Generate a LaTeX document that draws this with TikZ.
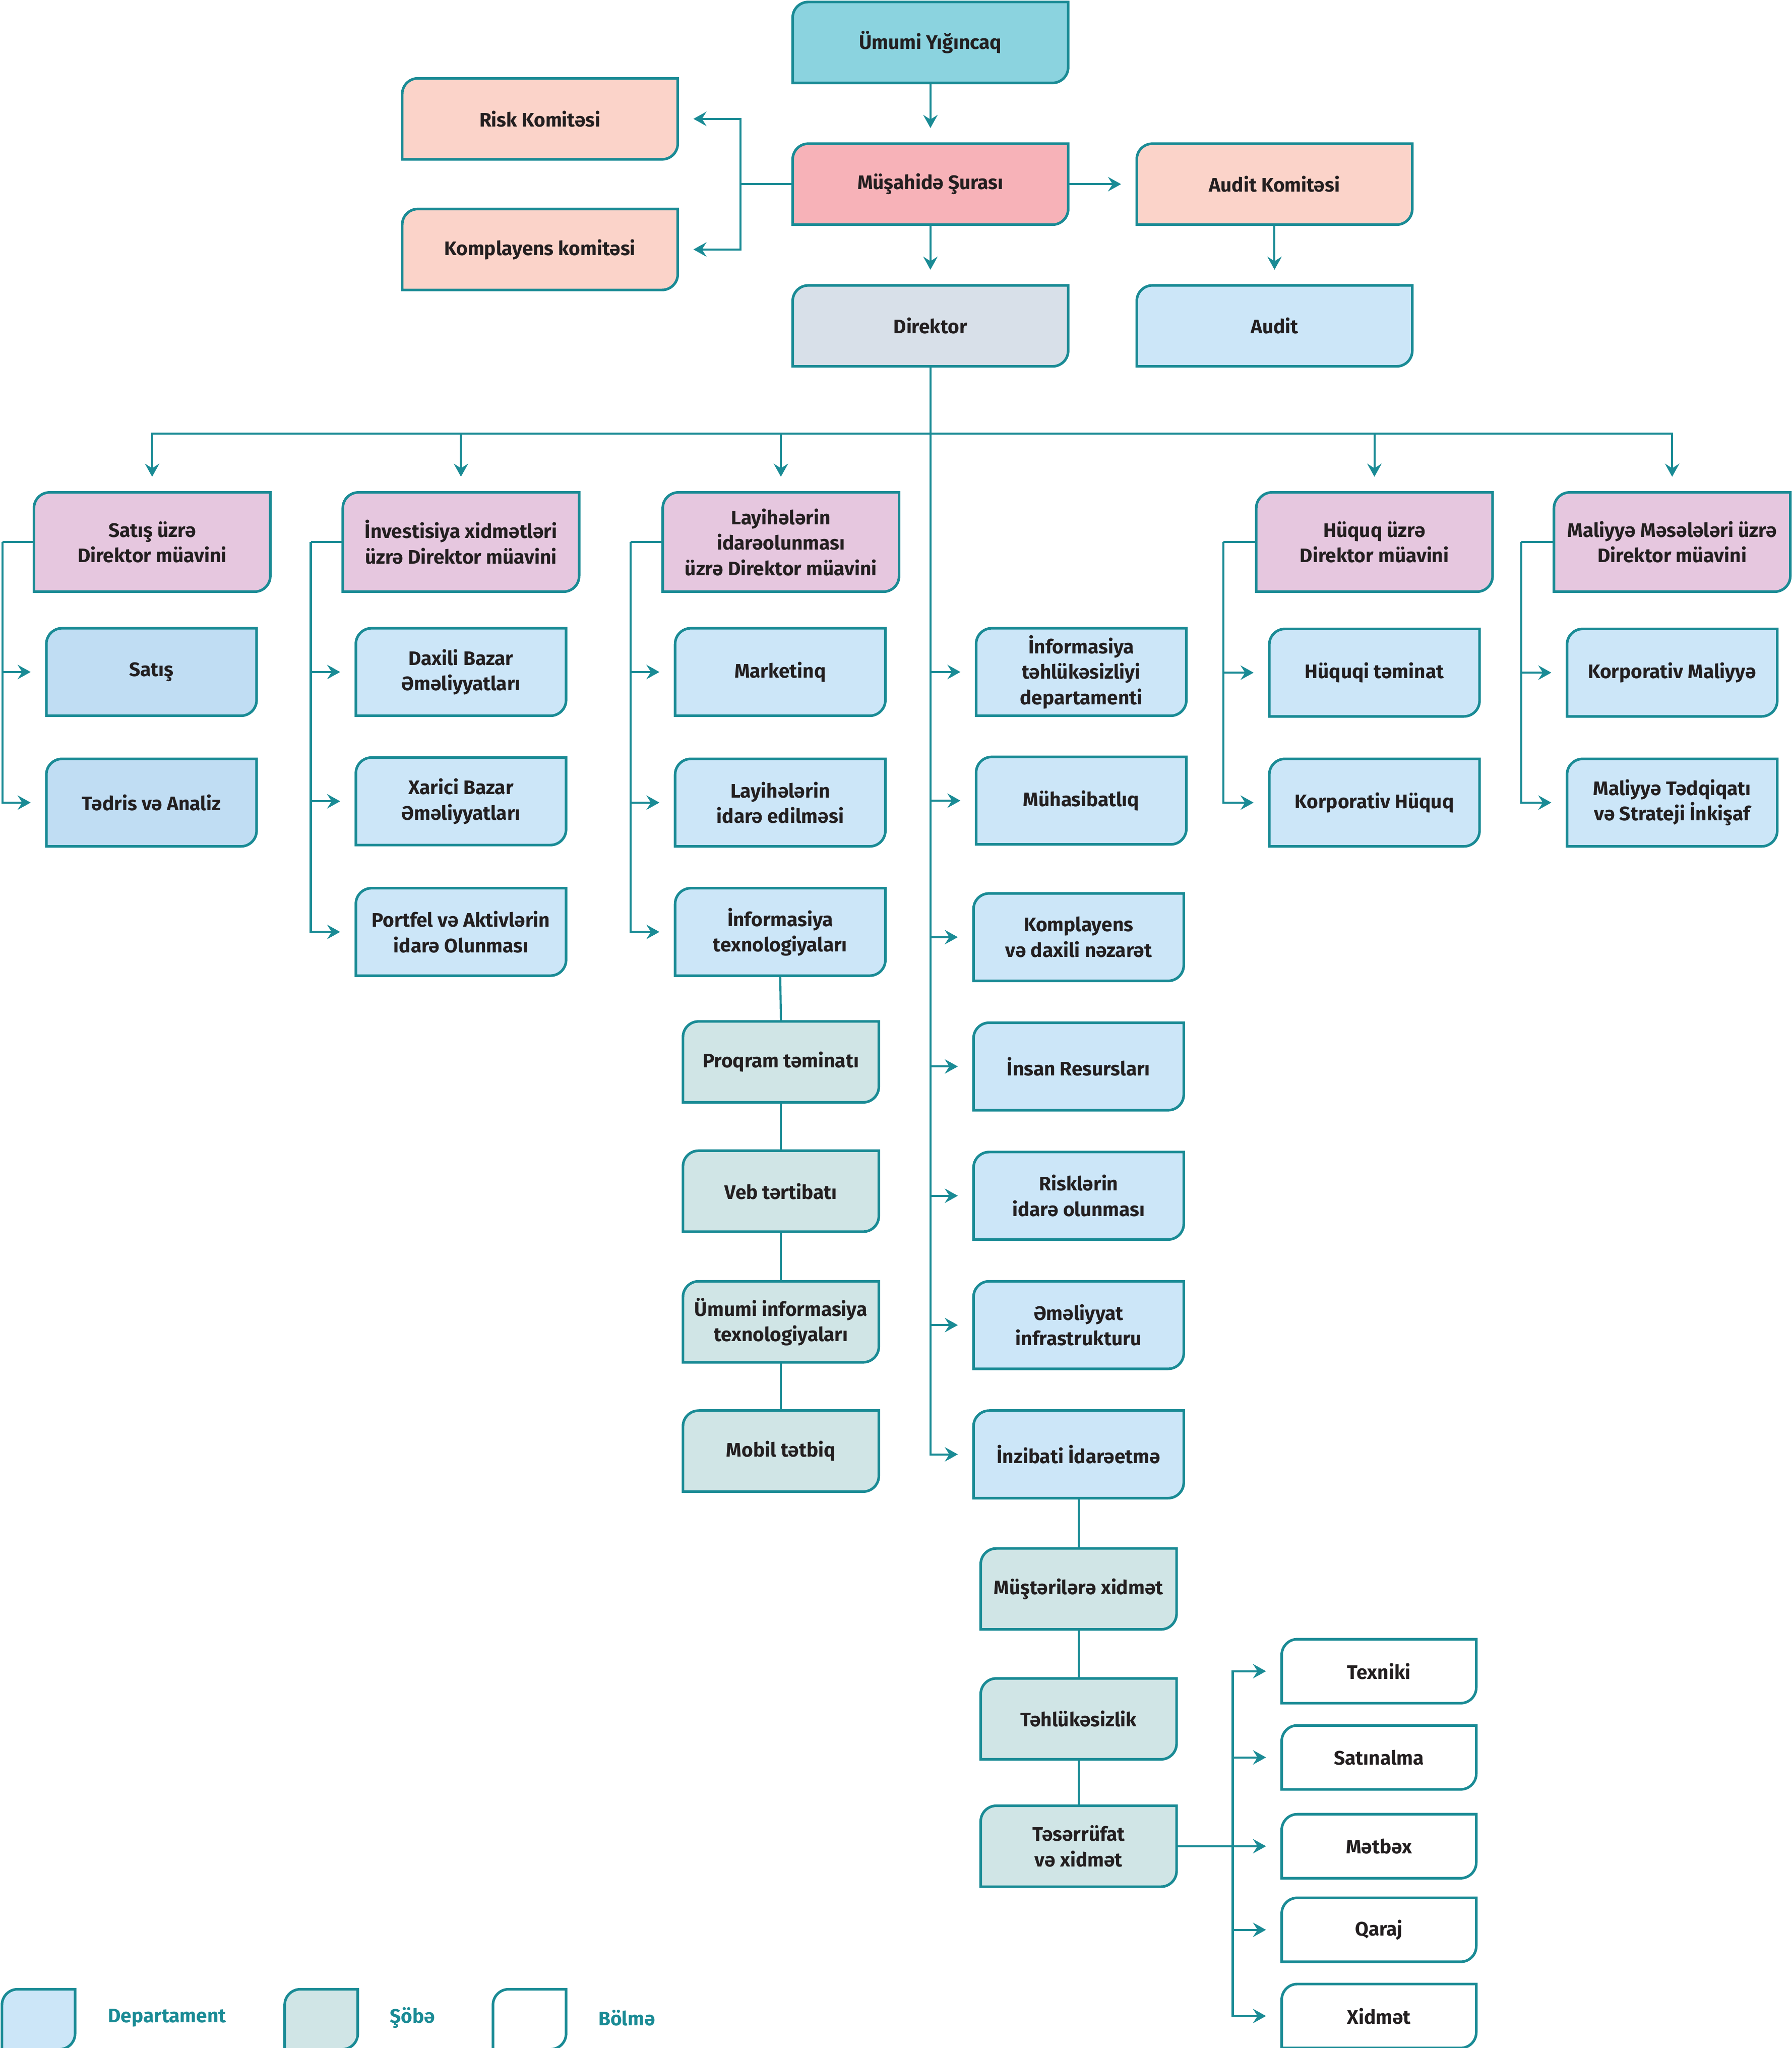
\documentclass[tikz,border=0pt]{standalone}
\usepackage{fontspec}
\setmainfont{Fira Sans}
\usetikzlibrary{arrows.meta,backgrounds}
\definecolor{tealc}{HTML}{1A8B95}
\definecolor{ink}{HTML}{231F20}
\definecolor{cUmumi}{HTML}{8BD3DF}
\definecolor{cMus}{HTML}{F7B2B8}
\definecolor{cPeach}{HTML}{FBD3C9}
\definecolor{cDir}{HTML}{D8E0E9}
\definecolor{cDept}{HTML}{CCE6F8}
\definecolor{cDeptB}{HTML}{C0DDF3}
\definecolor{cDep}{HTML}{E6C7DF}
\definecolor{cSobe}{HTML}{D0E5E6}
\begin{document}
\begin{tikzpicture}[x=1pt,y=-1pt,
  every node/.style={font=\bfseries\fontsize{15}{19.5}\selectfont, text=ink, align=center, inner sep=0pt, outer sep=0pt},
  boxline/.style={draw=tealc, line width=2pt},
  box/.style n args={3}{minimum width=#1, minimum height=#2,
    append after command={\pgfextra{\begin{pgfonlayer}{background}
      \draw[boxline,fill=#3] (\tikzlastnode.south west) -- ([yshift=-12pt]\tikzlastnode.north west)
        arc[start angle=180,end angle=90,radius=12pt] -- (\tikzlastnode.north east)
        -- ([yshift=12pt]\tikzlastnode.south east) arc[start angle=0,end angle=-90,radius=12pt] -- cycle;
      \end{pgfonlayer}}}},
  topbox/.style={box={211pt}{62pt}{#1}},
  dep/.style={box={181pt}{76pt}{cDep}},
  dept/.style={box={161pt}{67pt}{#1}},
  dept/.default=cDept,
  sobe/.style={box={150pt}{62pt}{cSobe}},
  bolme/.style={box={149pt}{49pt}{white}},
  leg/.style={box={56pt}{46pt}{#1}},
  legtext/.style={text=tealc},
  link/.style={draw=tealc, line width=1.6pt},
  arr/.style={link, -{Stealth[length=10pt,width=11pt,inset=3.5pt]}, shorten >=12pt}
]
\useasboundingbox (0,0) rectangle (1372,1568);

% top level
\node[topbox=cUmumi] (umumi) at (712.5,32.5) {Ümumi Yığıncaq};
\node[topbox=cMus] (mus) at (712.5,141) {Müşahidə Şurası};
\node[topbox=cPeach] (auditk) at (976,141) {Audit Komitəsi};
\node[topbox=cPeach] (risk) at (413.5,91) {Risk Komitəsi};
\node[topbox=cPeach] (kompk) at (413.5,191) {Komplayens komitəsi};
\node[topbox=cDir] (dir) at (712.5,249.5) {Direktor};
\node[topbox=cDept] (audit) at (976,249.5) {Audit};

% deputies
\node[dep] (d1) at (116.5,415) {Satış üzrə\\Direktor müavini};
\node[dep] (d2) at (353,415) {İnvestisiya xidmətləri\\üzrə Direktor müavini};
\node[dep] (d3) at (598,415) {Layihələrin\\idarəolunması\\üzrə Direktor müavini};
\node[dep] (d4) at (1052.5,415) {Hüquq üzrə\\Direktor müavini};
\node[dep] (d5) at (1280.5,415) {Maliyyə Məsələləri üzrə\\Direktor müavini};

% departments
\node[dept=cDeptB] (satis) at (116,514.5) {Satış};
\node[dept=cDeptB] (tedris) at (116,614.5) {Tədris və Analiz};
\node[dept] (daxili) at (353,514.5) {Daxili Bazar\\Əməliyyatları};
\node[dept] (xarici) at (353,613.5) {Xarici Bazar\\Əməliyyatları};
\node[dept] (portfel) at (353,713.5) {Portfel və Aktivlərin\\idarə Olunması};
\node[dept] (market) at (597.5,514.5) {Marketinq};
\node[dept] (layidare) at (597.5,614.5) {Layihələrin\\idarə edilməsi};
\node[dept] (infotex) at (597.5,713.5) {İnformasiya\\texnologiyaları};
\node[dept] (infsec) at (828,514.5) {İnformasiya\\təhlükəsizliyi\\departamenti};
\node[dept] (muhas) at (828,613) {Mühasibatlıq};
\node[dept] (kompl) at (826,717.5) {Komplayens\\və daxili nəzarət};
\node[dept] (insan) at (826,816.5) {İnsan Resursları};
\node[dept] (riskidare) at (826,915.5) {Risklərin\\idarə olunması};
\node[dept] (emel) at (826,1014.5) {Əməliyyat\\infrastrukturu};
\node[dept] (inzib) at (826,1113.5) {İnzibati İdarəetmə};
\node[dept] (huquqi) at (1052.5,515) {Hüquqi təminat};
\node[dept] (korphuq) at (1052.5,614.5) {Korporativ Hüquq};
\node[dept] (korpmal) at (1280.5,515) {Korporativ Maliyyə};
\node[dept] (maltedq) at (1280.5,614.5) {Maliyyə Tədqiqatı\\və Strateji İnkişaf};

% sobe
\node[sobe] (proq) at (598,813) {Proqram təminatı};
\node[sobe] (veb) at (598,912) {Veb tərtibatı};
\node[sobe] (umit) at (598,1012) {Ümumi informasiya\\texnologiyaları};
\node[sobe] (mobil) at (598,1111) {Mobil tətbiq};
\node[sobe] (must) at (826,1216.5) {Müştərilərə xidmət};
\node[sobe] (tehl) at (826,1316) {Təhlükəsizlik};
\node[sobe] (teser) at (826,1413.5) {Təsərrüfat\\və xidmət};

% bolme
\node[bolme] (texniki) at (1056,1279.5) {Texniki};
\node[bolme] (satinalma) at (1056,1345.5) {Satınalma};
\node[bolme] (metbex) at (1056,1413.5) {Mətbəx};
\node[bolme] (qaraj) at (1056,1477.5) {Qaraj};
\node[bolme] (xidmet) at (1056,1543.5) {Xidmət};

% legend
\node[leg=cDept] (lg1) at (29.5,1546) {};
\node[legtext] (lt1) at (128,1545) {Departament};
\node[leg=cSobe] (lg2) at (246,1546) {};
\node[legtext] (lt2) at (316,1545) {Şöbə};
\node[leg=white] (lg3) at (405.5,1546) {};
\node[legtext] (lt3) at (480,1545) {Bölmə};

% connectors top
\draw[arr] (umumi.south) -- (mus.north);
\draw[arr] (mus.south) -- (dir.north);
\draw[arr] (mus.east) -- (auditk.west);
\draw[arr] (auditk.south) -- (audit.north);
\coordinate (jm) at (567,141);
\draw[link] (mus.west) -- (jm);
\draw[arr] (jm) |- (risk.east);
\draw[arr] (jm) |- (kompk.east);

% director distribution
\coordinate (hub) at (712.5,332);
\draw[link] (dir.south) -- (hub);
\foreach \d in {d1,d2,d3,d4,d5} \draw[arr] (hub) -| (\d.north);
\foreach \n in {infsec,muhas,kompl,insan,riskidare,emel,inzib} \draw[arr] (hub) |- (\n.west);

% deputy brackets
\coordinate (b1) at (2,415);
\coordinate (b2) at (238,415);
\coordinate (b3) at (483,415);
\coordinate (b4) at (937,415);
\coordinate (b5) at (1165,415);
\draw[link] (d1.west) -- (b1);
\draw[link] (d2.west) -- (b2);
\draw[link] (d3.west) -- (b3);
\draw[link] (d4.west) -- (b4);
\draw[link] (d5.west) -- (b5);
\foreach \n in {satis,tedris} \draw[arr] (b1) |- (\n.west);
\foreach \n in {daxili,xarici,portfel} \draw[arr] (b2) |- (\n.west);
\foreach \n in {market,layidare,infotex} \draw[arr] (b3) |- (\n.west);
\foreach \n in {huquqi,korphuq} \draw[arr] (b4) |- (\n.west);
\foreach \n in {korpmal,maltedq} \draw[arr] (b5) |- (\n.west);

% chains
\draw[link] (infotex.south) -- (proq.north);
\draw[link] (proq.south) -- (veb.north);
\draw[link] (veb.south) -- (umit.north);
\draw[link] (umit.south) -- (mobil.north);
\draw[link] (inzib.south) -- (must.north);
\draw[link] (must.south) -- (tehl.north);
\draw[link] (tehl.south) -- (teser.north);

% bolme bracket
\coordinate (tj) at (944,1413.5);
\draw[link] (teser.east) -- (tj);
\foreach \n in {texniki,satinalma,metbex,qaraj,xidmet} \draw[arr] (tj) |- (\n.west);
\end{tikzpicture}
\end{document}
